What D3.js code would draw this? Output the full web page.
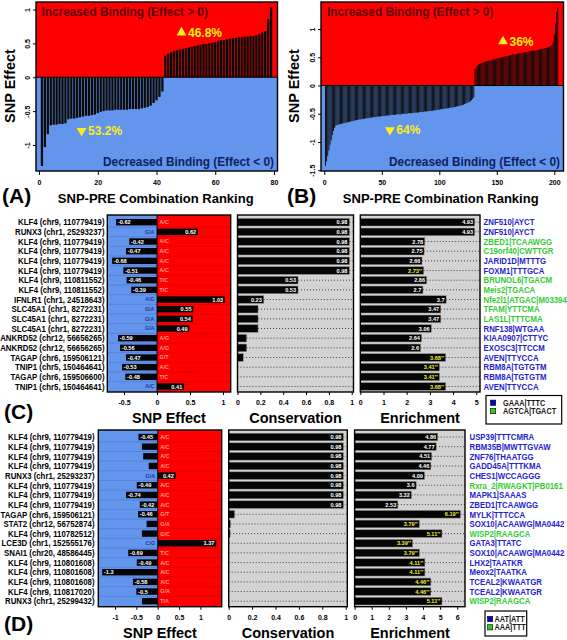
<!DOCTYPE html>
<html><head><meta charset="utf-8">
<script src="https://cdn.jsdelivr.net/npm/d3@7"></script>
<style>body{margin:0;background:#fff}svg{display:block}</style>
</head><body>
<script>
// ---------------- DATA ----------------
const rankA = [-1.31,-1.03,-0.84,-0.71,-0.70,-0.70,-0.69,-0.69,-0.68,-0.62,-0.61,-0.61,-0.60,-0.59,-0.58,-0.57,-0.57,-0.56,-0.55,-0.53,
-0.51,-0.50,-0.49,-0.49,-0.49,-0.48,-0.48,-0.48,-0.48,-0.48,-0.47,-0.47,-0.47,-0.47,-0.46,-0.45,-0.44,-0.42,-0.38,-0.34,-0.29,-0.21,
0.32,0.35,0.37,0.39,0.40,0.41,0.42,0.43,0.44,0.45,0.46,0.47,0.48,0.49,0.49,0.50,0.51,0.52,0.54,0.55,0.55,0.56,0.57,0.58,0.58,0.59,0.59,0.60,0.60,0.61,0.61,0.62,0.64,0.66,0.68,0.86,1.03];
const rankB = [
-1.42,-1.34,-1.25,-1.15,-1.05,-0.97,-0.88,-0.80,-0.75,-0.71,
-0.70,-0.69,-0.69,-0.68,-0.68,-0.67,-0.67,-0.66,-0.66,-0.65,
-0.65,-0.64,-0.64,-0.63,-0.63,-0.62,-0.62,-0.61,-0.61,-0.60,
-0.60,-0.60,-0.59,-0.59,-0.59,-0.58,-0.58,-0.58,-0.57,-0.57,
-0.57,-0.56,-0.56,-0.56,-0.56,-0.55,-0.55,-0.55,-0.55,-0.54,
-0.54,-0.54,-0.54,-0.53,-0.53,-0.53,-0.53,-0.52,-0.52,-0.52,
-0.52,-0.52,-0.51,-0.51,-0.51,-0.51,-0.51,-0.50,-0.50,-0.50,
-0.50,-0.50,-0.49,-0.49,-0.49,-0.49,-0.49,-0.48,-0.48,-0.48,
-0.48,-0.48,-0.47,-0.47,-0.47,-0.47,-0.46,-0.46,-0.46,-0.46,
-0.45,-0.45,-0.45,-0.45,-0.44,-0.44,-0.44,-0.43,-0.43,-0.43,
-0.42,-0.42,-0.42,-0.41,-0.41,-0.41,-0.40,-0.40,-0.40,-0.39,
-0.39,-0.39,-0.38,-0.38,-0.37,-0.37,-0.36,-0.36,-0.35,-0.35,
-0.34,-0.33,-0.32,-0.31,-0.30,-0.29,-0.28,-0.26,-0.24,-0.21,
0.29,0.32,0.35,0.37,0.38,0.39,0.40,0.41,0.42,0.42,
0.43,0.43,0.44,0.44,0.45,0.46,0.46,0.47,0.47,0.48,
0.48,0.49,0.49,0.50,0.50,0.51,0.51,0.52,0.52,0.53,
0.53,0.54,0.54,0.55,0.55,0.55,0.56,0.56,0.57,0.57,
0.57,0.58,0.58,0.59,0.59,0.59,0.60,0.60,0.61,0.61,
0.61,0.62,0.62,0.62,0.63,0.63,0.64,0.64,0.65,0.65,
0.66,0.66,0.67,0.67,0.68,0.69,0.70,0.72,0.78,0.90,
1.10,1.30,1.38];
const rankXTicksA = [0,20,40,60,80];
const rankXTicksB = [0,50,100,150,200];
const rankYTicksA = [-1,-0.5,0,0.5,1];
const rankYTicksB = [-1.5,-1,-0.5,0,0.5,1];

const cLabels = ["KLF4 (chr9, 110779419)","RUNX3 (chr1, 25293237)","KLF4 (chr9, 110779419)","KLF4 (chr9, 110779419)","KLF4 (chr9, 110779419)","KLF4 (chr9, 110779419)","KLF4 (chr9, 110811552)","KLF4 (chr9, 110811552)","IFNLR1 (chr1, 24518643)","SLC45A1 (chr1, 8272231)","SLC45A1 (chr1, 8272231)","SLC45A1 (chr1, 8272231)","ANKRD52 (chr12, 56656265)","ANKRD52 (chr12, 56656265)","TAGAP (chr6, 159506121)","TNIP1 (chr5, 150464641)","TAGAP (chr6, 159506600)","TNIP1 (chr5, 150464641)"];
const cEffect = [-0.62,0.62,-0.42,-0.47,-0.68,-0.51,-0.46,-0.39,1.03,0.55,0.54,0.49,-0.59,-0.56,-0.47,-0.53,-0.48,0.41];
const cAllele = ["A/C","G/A","A/C","A/C","A/C","A/C","T/C","T/C","A/G","G/A","G/A","G/A","A/G","A/G","G/T","A/C","T/C","A/C"];
const cCons = [0.98,0.98,0.98,0.98,0.98,0.98,0.53,0.53,0.23,0.18,0.18,0.18,0.08,0.08,0.05,0,0,0];
const cEnrich = [4.93,4.93,2.78,2.75,2.66,2.73,2.86,2.7,3.7,3.47,3.47,3.06,2.64,2.6,3.68,3.41,3.41,3.68];
const cSig = [0,0,0,0,0,1,0,0,0,0,0,0,0,0,1,1,1,1];
const cMotif = ["ZNF510|AYCT","ZNF510|AYCT","ZBED1|TCAAWGG","C19orf40|CWTTGR","JARID1D|MTTTG","FOXM1|TTTGCA","BRUNOL6|TGACM","Meis2|TGACA","Nfe2l1|ATGAC|M03394","TFAM|YTTCMA","LAS1L|TTTCMA","RNF138|WTGAA","KIAA0907|CTTYC","EXOSC3|TTCCM","AVEN|TTYCCA","RBM8A|TGTGTM","RBM8A|TGTGTM","AVEN|TTYCCA"];
const cGroup = [0,0,1,1,0,0,1,1,1,1,1,0,0,0,0,0,0,0];
const cLegend = ["GAAA|TTTC","AGTCA|TGACT"];

const dLabels = ["KLF4 (chr9, 110779419)","KLF4 (chr9, 110779419)","KLF4 (chr9, 110779419)","KLF4 (chr9, 110779419)","RUNX3 (chr1, 25293237)","KLF4 (chr9, 110779419)","KLF4 (chr9, 110779419)","KLF4 (chr9, 110779419)","TAGAP (chr6, 159506121)","STAT2 (chr12, 56752874)","KLF4 (chr9, 110782512)","LCE3D (chr1, 152555176)","SNAI1 (chr20, 48586445)","KLF4 (chr9, 110801608)","KLF4 (chr9, 110801608)","KLF4 (chr9, 110801608)","KLF4 (chr9, 110817020)","RUNX3 (chr1, 25299432)"];
const dEffect = [-0.45,-0.37,-0.34,-0.21,0.42,-0.49,-0.74,-0.42,-0.46,-0.26,-0.37,1.37,-0.69,-0.49,-1.3,-0.58,-0.5,-0.37];
const dAllele = ["A/C","A/C","A/C","A/C","G/A","A/C","A/C","A/C","G/T","G/A","G/C","C/G","T/C","A/C","A/C","A/C","G/A","T/A"];
const dCons = [0.98,0.98,0.98,0.98,0.98,0.98,0.98,0.98,0.05,0.015,0.012,0,0,0,0,0,0,0];
const dEnrich = [4.86,4.77,4.51,4.46,4.09,3.6,3.32,2.53,6.19,3.79,5.11,3.39,3.79,4.11,4.11,4.46,4.46,5.11];
const dSig = [0,0,0,0,0,0,0,0,1,1,1,1,1,1,1,1,1,1];
const dMotif = ["USP39|TTTCMRA","RBM35B|MWTTGVAW","ZNF76|THAATGG","GADD45A|TTTKMA","CHES1|WCCAGGG","Rxra_2|RWAGKT|PB0161","MAPK1|SAAAS","ZBED1|TCAAWGG","MYLK|TTTCCA","SOX10|ACAAWG|MA0442","WISP2|RAAGCA","GATA3|TTATC","SOX10|ACAAWG|MA0442","LHX2|TAATKR","Meox2|TAATKA","TCEAL2|KWAATGR","TCEAL2|KWAATGR","WISP2|RAAGCA"];
const dGroup = [0,0,0,0,0,1,0,0,0,0,1,0,0,0,0,0,0,1];
const dLegend = ["AAT|ATT","AAA|TTT"];

// ---------------- DRAW ----------------
const FONT = '"Liberation Sans", Arial, Helvetica, sans-serif';
const RED = '#ff0000', BLUE = '#6495ed', GRAY = '#d3d3d3';
const GRPCOL = ['#2323cf', '#33cc33'];
const svg = d3.select('body').append('svg').attr('width', 567).attr('height', 640)
  .attr('font-family', FONT);

function T(g, x, y, s, o = {}) {
  let tr = `translate(${x},${y})`;
  if (o.rot) tr += ` rotate(${o.rot})`;
  if (o.sx) tr += ` scale(${o.sx},1)`;
  const t = g.append('text').attr('transform', tr)
    .attr('font-size', o.size || 8).attr('font-weight', o.weight || 'bold')
    .attr('fill', o.fill || '#000').attr('text-anchor', o.anchor || 'start')
    .text(s);
  if (o.dy) t.attr('dy', o.dy);
  return t;
}
function box(g, x0, y0, x1, y1, fill, sw) {
  return g.append('rect').attr('x', x0).attr('y', y0).attr('width', x1 - x0).attr('height', y1 - y0)
    .attr('fill', fill || 'none').attr('stroke', fill ? 'none' : '#000').attr('stroke-width', sw || 1.4);
}
function styleAxis(ga, size) {
  ga.select('.domain').remove();
  ga.attr('font-family', FONT).attr('font-size', size).attr('font-weight', 'bold');
  ga.selectAll('line').attr('stroke', '#000');
}

function rankPanel(vals, P) {
  const g = svg.append('g');
  const x = d3.scaleLinear().domain(P.xd).range(P.xr);
  const y = d3.scaleLinear().domain([-1, 1]).range(P.yr);
  const [bx0, by0, bx1, by1] = P.box;
  const y0 = y(0);
  box(g, bx0, by0, bx1, y0, RED);
  box(g, bx0, y0, bx1, by1, BLUE);
  const bw = (x(1) - x(0)) * P.bwf;
  g.selectAll('.bar').data(vals).join('rect').attr('class', 'bar')
    .attr('x', (d, i) => x(i + 1) - bw / 2).attr('width', bw)
    .attr('y', d => Math.min(y(d), y0)).attr('height', d => Math.abs(y(d) - y0))
    .attr('fill', '#0a0a0a');
  g.append('line').attr('x1', bx0).attr('x2', bx1).attr('y1', y0).attr('y2', y0).attr('stroke', '#000').attr('stroke-width', 1);
  T(g, bx0 + P.incDx, 16.3, 'Increased Binding (Effect > 0)', {size: 13, sx: 0.91, fill: '#5c0505'});
  T(g, bx1 - 3.5, 166.3, 'Decreased Binding (Effect < 0)', {size: 13, sx: 0.91, fill: '#0f1f5e', anchor: 'end'});
  const nPos = vals.filter(v => v > 0).length, n = vals.length;
  const fmt = d3.format(P.pctFmt);
  const tri = d3.symbol(d3.symbolTriangle, 42);
  const YEL = '#ffee10';
  g.append('path').attr('d', tri()).attr('fill', YEL)
    .attr('transform', `translate(${x(P.up[0])},${y(P.up[1])})`);
  T(g, x(P.up[0]) + 6.5, y(P.up[1]), fmt(100 * nPos / n) + '%', {size: 12, fill: YEL, dy: '0.36em'});
  g.append('path').attr('d', tri()).attr('fill', YEL)
    .attr('transform', `translate(${x(P.dn[0])},${y(P.dn[1])}) rotate(180)`);
  T(g, x(P.dn[0]) + 6.5, y(P.dn[1]), fmt(100 * (n - nPos) / n) + '%', {size: 12, fill: YEL, dy: '0.36em'});
  box(g, bx0, by0, bx1, by1);
  const gx = g.append('g').attr('transform', `translate(0,${by1})`)
    .call(d3.axisBottom(x).tickValues(P.xt).tickSize(4).tickPadding(4.6).tickFormat(d => String(d)));
  styleAxis(gx, 7);
  const gy = g.append('g').attr('transform', `translate(${bx0},0)`)
    .call(d3.axisLeft(y).tickValues(P.yt).tickSize(3).tickFormat(d => String(d)));
  styleAxis(gy, 7);
  gy.selectAll('text').attr('transform', 'rotate(-90)').attr('x', 0).attr('y', -8)
    .attr('dy', '0.35em').attr('text-anchor', 'middle');
  T(g, P.ytx, 86, 'SNP Effect', {size: 14.5, rot: -90, anchor: 'middle', dy: '0.35em'});
  T(g, P.xtx, 202.5, 'SNP-PRE Combination Ranking', {size: 13, anchor: 'middle'});
  T(g, P.lab[0], 203, P.lab[1], {size: 21});
}

function detailPanel(D, P) {
  const g = svg.append('g');
  const n = D.labels.length;
  const ry = d3.scalePoint().domain(d3.range(n)).range([P.r0, P.r1]);
  const step = ry.step();
  const [y0, y1] = [P.y0, P.y1];
  // left labels
  D.labels.forEach((s, i) => T(g, P.lx, ry(i), s, {size: 9, sx: 0.87, anchor: 'end', dy: '0.36em'}));

  // --- SNP effect ---
  const xe = d3.scaleLinear().domain([0, 1]).range(P.xe);
  const [ex0, ex1] = P.ebox;
  const z = xe(0);
  box(g, ex0, y0, z, y1, BLUE);
  box(g, z, y0, ex1, y1, RED);
  d3.range(n - 1).forEach(i => {
    const yy = ry(i) + step / 2;
    g.append('line').attr('x1', ex0).attr('x2', z).attr('y1', yy).attr('y2', yy).attr('stroke', '#4f7fd8').attr('stroke-width', 0.8);
    g.append('line').attr('x1', z).attr('x2', ex1).attr('y1', yy).attr('y2', yy).attr('stroke', '#d80000').attr('stroke-width', 0.8);
  });
  const bh = 6.4;
  g.selectAll('.eb').data(D.effect).join('rect').attr('class', 'eb')
    .attr('x', d => Math.min(xe(d), z)).attr('width', d => Math.abs(xe(d) - z))
    .attr('y', (d, i) => ry(i) - bh / 2).attr('height', bh).attr('fill', '#050505');
  D.effect.forEach((v, i) => {
    const len = Math.abs(xe(v) - z);
    if (len > 17) {
      if (v < 0) T(g, xe(v) + 1.8, ry(i), String(v), {size: 5.6, fill: '#fff', dy: '0.36em'});
      else T(g, xe(v) - 1.8, ry(i), String(v), {size: 5.6, fill: '#fff', anchor: 'end', dy: '0.36em'});
    }
    if (v < 0) T(g, z + 2.5, ry(i), D.allele[i], {size: 5.4, fill: '#ff9b8f', dy: '0.36em'});
    else T(g, z - 2.5, ry(i), D.allele[i], {size: 5.4, fill: '#1b3a98', anchor: 'end', dy: '0.36em'});
  });
  g.append('line').attr('x1', z).attr('x2', z).attr('y1', y0).attr('y2', y1).attr('stroke', '#000').attr('stroke-width', 0.9);
  box(g, ex0, y0, ex1, y1);
  const ge = g.append('g').attr('transform', `translate(0,${y1})`)
    .call(d3.axisBottom(xe).tickValues(P.et).tickSize(3).tickPadding(P.tp).tickFormat(d => String(d)));
  styleAxis(ge, 7);
  T(g, (ex0 + ex1) / 2, P.tty, 'SNP Effect', {size: 14.5, anchor: 'middle'});

  // --- Conservation ---
  const xc = d3.scaleLinear().domain([0, 1]).range(P.xc);
  const [cx0, cx1] = P.cbox;
  const bh2 = 7.6;
  box(g, cx0, y0, cx1, y1, GRAY);
  D.cons.forEach((v, i) => {
    g.append('line').attr('x1', xc(v)).attr('x2', cx1).attr('y1', ry(i)).attr('y2', ry(i))
      .attr('stroke', '#333').attr('stroke-width', 0.9).attr('stroke-dasharray', '1,2');
  });
  g.selectAll('.cb').data(D.cons).join('rect').attr('class', 'cb')
    .attr('x', xc(0)).attr('width', d => xc(d) - xc(0))
    .attr('y', (d, i) => ry(i) - bh2 / 2).attr('height', bh2).attr('fill', '#050505')
    .attr('stroke', '#8a8a8a').attr('stroke-width', 0.5);
  D.cons.forEach((v, i) => {
    if (v > 0.2) T(g, xc(v) - 2, ry(i), String(v), {size: 5.6, fill: '#fff', anchor: 'end', dy: '0.36em'});
  });
  box(g, cx0, y0, cx1, y1);
  const gc = g.append('g').attr('transform', `translate(0,${y1})`)
    .call(d3.axisBottom(xc).tickValues([0, 0.2, 0.4, 0.6, 0.8, 1]).tickSize(3).tickPadding(P.tp).tickFormat(d => String(d)));
  styleAxis(gc, 7);
  T(g, (cx0 + cx1) / 2, P.tty, 'Conservation', {size: 14.5, anchor: 'middle'});

  // --- Enrichment ---
  const xn = d3.scaleLinear().domain([0, 1]).range(P.xn);
  const [nx0, nx1] = P.nbox;
  box(g, nx0, y0, nx1, y1, GRAY);
  D.enrich.forEach((v, i) => {
    g.append('line').attr('x1', xn(v)).attr('x2', nx1).attr('y1', ry(i)).attr('y2', ry(i))
      .attr('stroke', '#333').attr('stroke-width', 0.9).attr('stroke-dasharray', '1,2');
  });
  g.selectAll('.nb').data(D.enrich).join('rect').attr('class', 'nb')
    .attr('x', xn(0)).attr('width', d => xn(d) - xn(0))
    .attr('y', (d, i) => ry(i) - bh2 / 2).attr('height', bh2).attr('fill', '#050505')
    .attr('stroke', '#8a8a8a').attr('stroke-width', 0.5);
  D.enrich.forEach((v, i) => {
    const sig = D.sig[i];
    const t = T(g, xn(v) - 1.6, ry(i), String(v), {size: 5.6, fill: sig ? '#f2f230' : '#fff', anchor: 'end', dy: '0.36em'});
    if (sig) t.append('tspan').attr('font-size', 4).attr('dy', '-0.25em').text('**');
  });
  box(g, nx0, y0, nx1, y1);
  const gn = g.append('g').attr('transform', `translate(0,${y1})`)
    .call(d3.axisBottom(xn).tickValues(P.nt).tickSize(3).tickPadding(P.tp).tickFormat(d => String(d)));
  styleAxis(gn, 7);
  T(g, P.ntx, P.tty, 'Enrichment', {size: 14.5, anchor: 'middle'});

  // motif labels
  D.motif.forEach((s, i) => T(g, P.mx, ry(i), s, {size: 9, sx: 0.87, fill: GRPCOL[D.group[i]], dy: '0.36em'}));

  // legend
  const L = P.leg;
  g.append('rect').attr('x', L.x0).attr('y', L.y0).attr('width', L.x1 - L.x0).attr('height', L.y1 - L.y0)
    .attr('fill', '#fff').attr('stroke', '#000').attr('stroke-width', 1.2);
  D.legend.forEach((s, i) => {
    const cy = L.r0 + i * L.dr;
    g.append('rect').attr('x', L.sx).attr('y', cy - 2.6).attr('width', 5.2).attr('height', 5.2)
      .attr('fill', ['#0000cc', '#22cc22'][i]).attr('stroke', '#000').attr('stroke-width', 0.6);
    T(g, L.tx, cy, s, {size: 8.4, sx: 0.87, fill: '#1a1a1a', dy: '0.36em'});
  });
  T(g, 4, P.labY, P.lab, {size: 21});
}

rankPanel(rankA, {
  xd: [0, 80], xr: [39, 274], yr: [145, 9.5], box: [36, 2, 277.5, 171], bwf: 0.78,
  xt: rankXTicksA, yt: rankYTicksA, incDx: 5.5, pctFmt: '.1f',
  up: [48.5, 0.66], dn: [14.5, -0.79], ytx: 9.5, xtx: 155.7, lab: [2, '(A)']
});
rankPanel(rankB, {
  xd: [0, 200], xr: [324.3, 554.3], yr: [142, 29], box: [321, 2, 563.5, 171], bwf: 0.82,
  xt: rankXTicksB, yt: rankYTicksB, incDx: 6, pctFmt: '.0f',
  up: [155.4, 0.78], dn: [57, -0.79], ytx: 294, xtx: 440.7, lab: [287, '(B)']
});

detailPanel({labels: cLabels, effect: cEffect, allele: cAllele, cons: cCons, enrich: cEnrich, sig: cSig,
  motif: cMotif, group: cGroup, legend: cLegend}, {
  r0: 222.2, r1: 386.5, y0: 215, y1: 392, lx: 104.5,
  xe: [157, 223], ebox: [107.3, 230.7], et: [-0.5, 0, 0.5, 1],
  xc: [237.5, 351.7], cbox: [237.5, 353.5],
  xn: [360.3, 383.5], nbox: [360.3, 480], nt: [0, 1, 2, 3, 4, 5], ntx: 420,
  tp: 5.5, tty: 423, mx: 483.5, lab: '(C)', labY: 419,
  leg: {x0: 486, y0: 395.5, x1: 561.7, y1: 424, sx: 490.5, tx: 503, r0: 402.7, dr: 8.4}
});
detailPanel({labels: dLabels, effect: dEffect, allele: dAllele, cons: dCons, enrich: dEnrich, sig: dSig,
  motif: dMotif, group: dGroup, legend: dLegend}, {
  r0: 437, r1: 601.2, y0: 430, y1: 606.7, lx: 94.5,
  xe: [157.7, 200.4], ebox: [98.3, 221.7], et: [-1, -0.5, 0, 0.5, 1],
  xc: [228.7, 345.7], cbox: [228.7, 347.3],
  xn: [354.6, 371.7], nbox: [354.6, 465], nt: [0, 1, 2, 3, 4, 5, 6], ntx: 410,
  tp: 5, tty: 638, mx: 469.5, lab: '(D)', labY: 631,
  leg: {x0: 485, y0: 611, x1: 526.7, y1: 636, sx: 487.5, tx: 494.5, r0: 619, dr: 8.3}
});
</script>
</body></html>
